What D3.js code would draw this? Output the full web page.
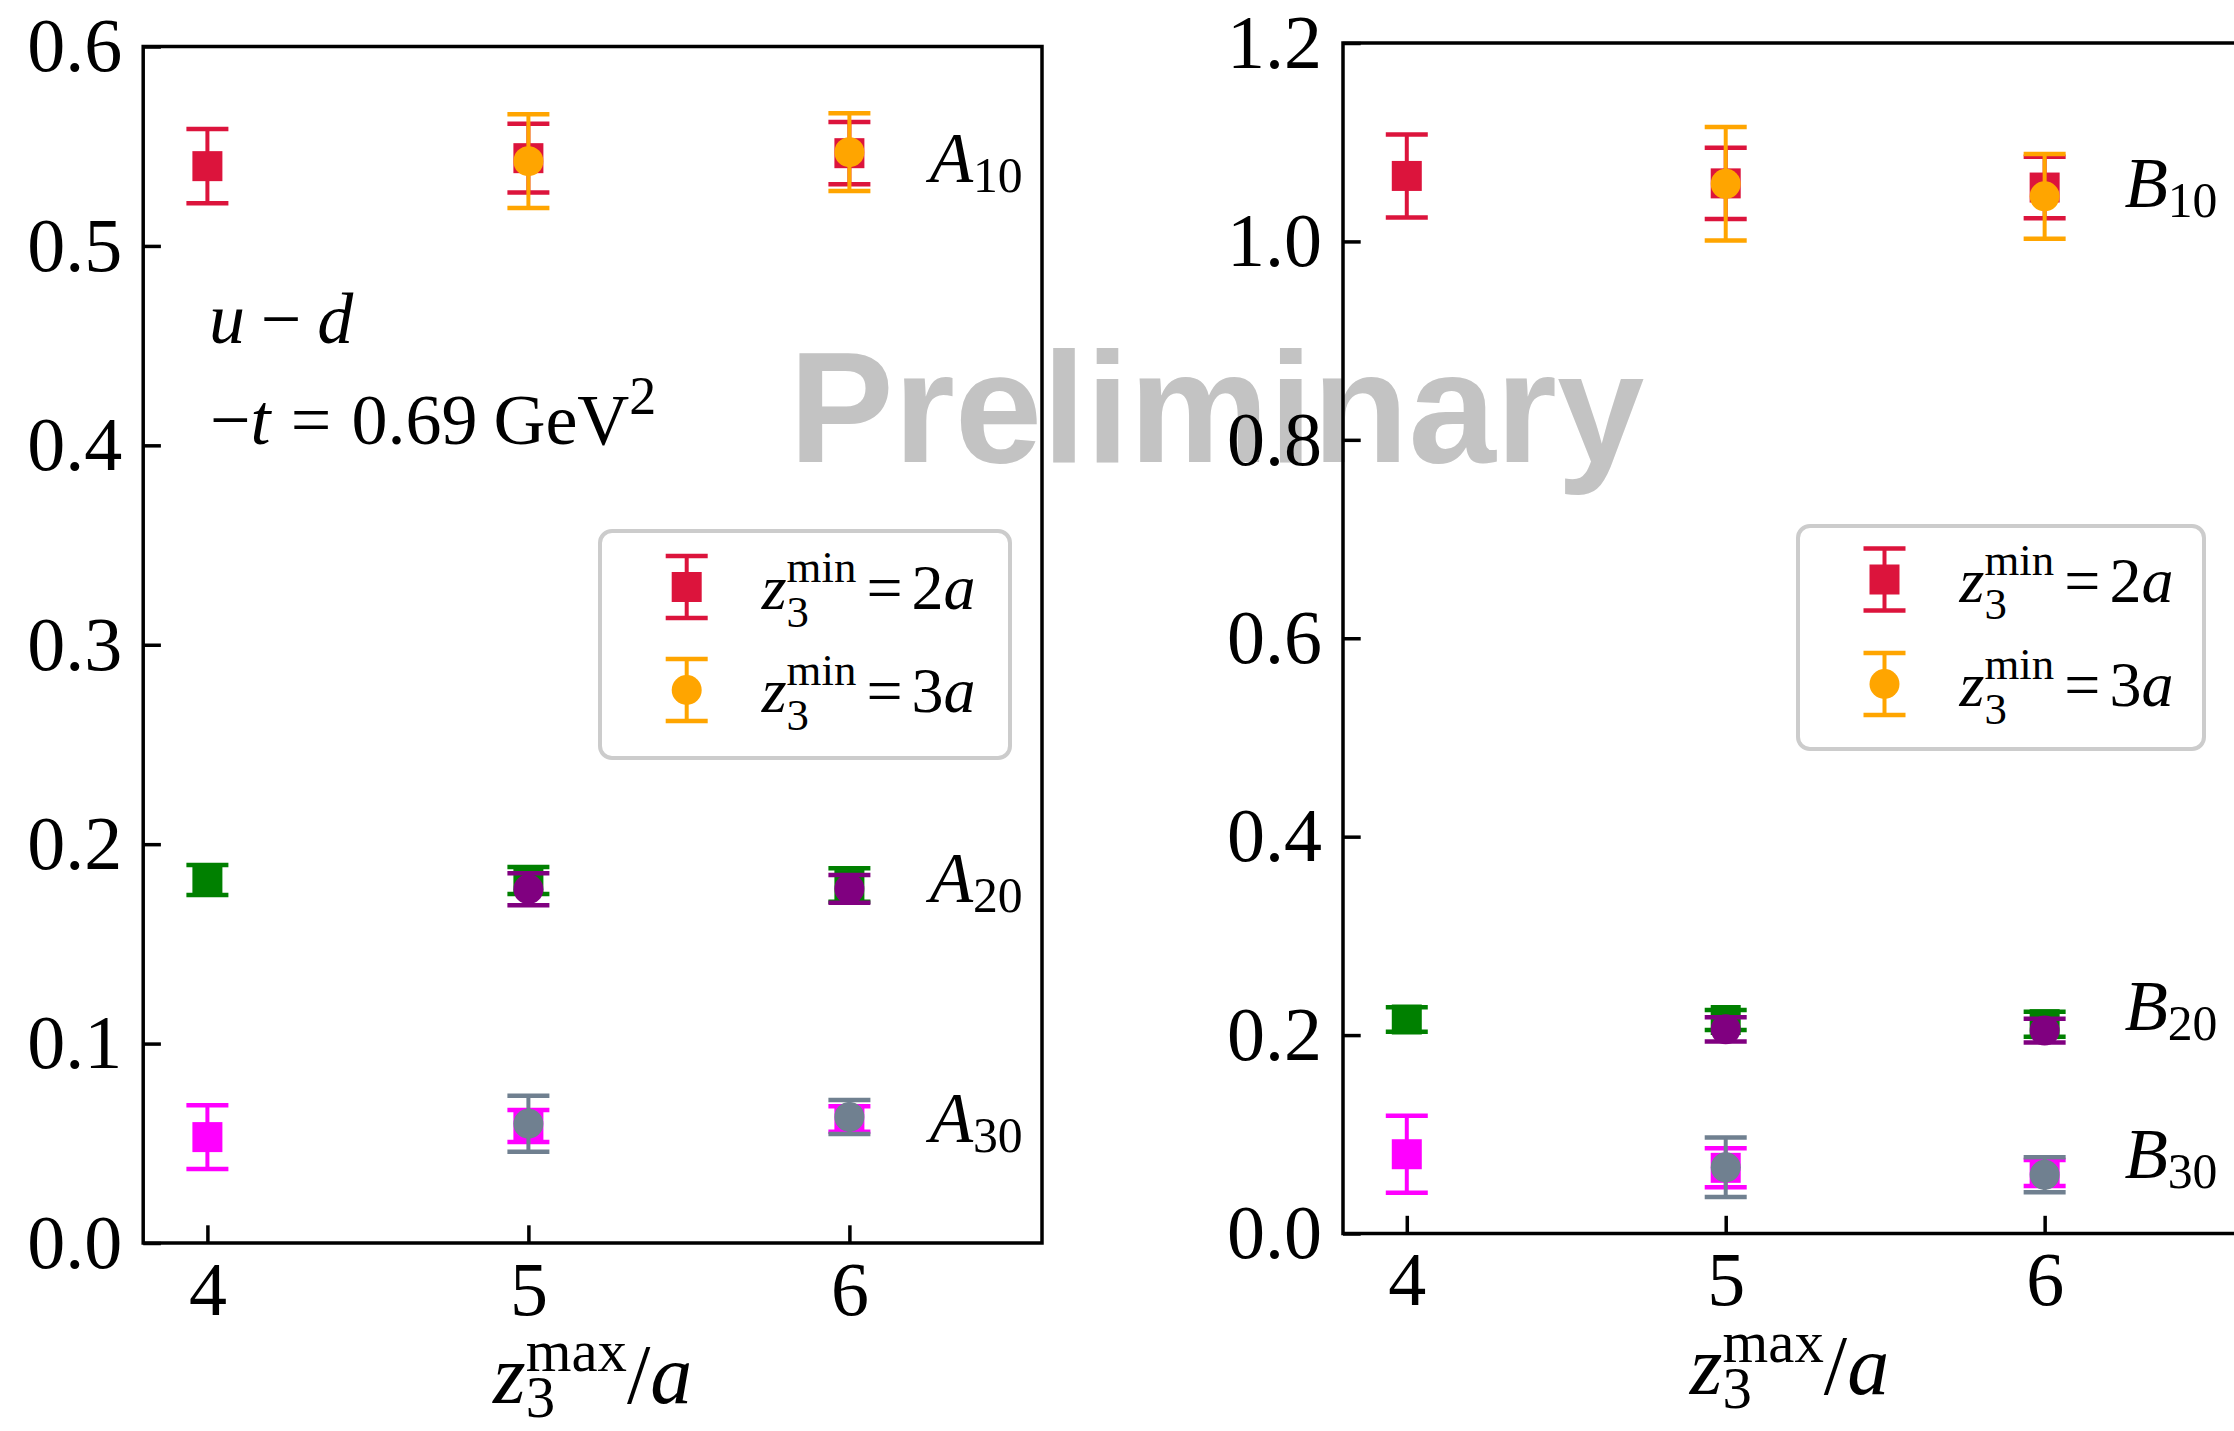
<!DOCTYPE html>
<html>
<head>
<meta charset="utf-8">
<script src="https://cdn.jsdelivr.net/npm/d3@7"></script>
<style>
  body { margin: 0; background: #fff; }
  svg text { font-family: "Liberation Serif", "Times New Roman", serif; fill: #000; }
</style>
</head>
<body>
<svg width="2234" height="1431"></svg>
<script>
// x values: z3max/a ; the z3min=3a fits only exist from 5 on
var zmax = [4, 5, 6];
var zmax3 = [5, 6];

// left panel : A form factors (u-d, -t = 0.69 GeV^2)
var A10_2a = [0.540, 0.544, 0.5465], A10_2a_err = [0.0186, 0.0172, 0.0156];
var A10_3a = [0.5425, 0.5470],       A10_3a_err = [0.0235, 0.0195];
var A20_2a = [0.182, 0.1818, 0.1795], A20_2a_err = [0.0075, 0.0068, 0.0084];
var A20_3a = [0.1774, 0.1776],       A20_3a_err = [0.008, 0.007];
var A30_2a = [0.0531, 0.0587, 0.0622], A30_2a_err = [0.016, 0.008, 0.0064];
var A30_3a = [0.0598, 0.0632],       A30_3a_err = [0.014, 0.0085];

// right panel : B form factors
var B10_2a = [1.066, 1.0585, 1.0543], B10_2a_err = [0.0418, 0.036, 0.031];
var B10_3a = [1.0581, 1.0455],       B10_3a_err = [0.0573, 0.0427];
var B20_2a = [0.2157, 0.2152, 0.211], B20_2a_err = [0.0123, 0.010, 0.0126];
var B20_3a = [0.2058, 0.2045],       B20_3a_err = [0.0123, 0.012];
var B30_2a = [0.0799, 0.0662, 0.061], B30_2a_err = [0.0388, 0.0197, 0.013];
var B30_3a = [0.0667, 0.0592],       B30_3a_err = [0.030, 0.0177];

var yTicksA = [0.0, 0.1, 0.2, 0.3, 0.4, 0.5, 0.6];
var yTicksB = [0.0, 0.2, 0.4, 0.6, 0.8, 1.0, 1.2];
var xTicks = [4, 5, 6];

// labels next to each group, placed at x = 6.25
var labelsA = [["A", "10", 0.532], ["A", "20", 0.171], ["A", "30", 0.0508]];
var labelsB = [["B", "10", 1.035], ["B", "20", 0.205], ["B", "30", 0.0556]];

var col2a = ["crimson", "green", "magenta"];
var col3a = ["orange", "purple", "slategray"];

var svg = d3.select("svg");
svg.append("rect").attr("width", 2234).attr("height", 1431).attr("fill", "#fff");

// watermark first so the axes sit on top of it
svg.append("text")
    .attr("x", 789).attr("y", 462)
    .style("font-family", '"Liberation Sans", Arial, sans-serif')
    .style("font-weight", "bold")
    .style("fill", "#c3c3c3")
    .attr("font-size", 157)
    .text("Preliminary");

// small mathtext-like helper : runs of text, italic pieces, stacked sub/sup
function mtext(g, x, y, size, runs) {
  var cx = x;
  runs.forEach(function(r) {
    if (r.sp) cx += r.sp * size;
    if (r.t !== undefined) {
      var t = g.append("text").attr("x", cx).attr("y", y).attr("font-size", size)
          .style("font-style", r.it ? "italic" : "normal").text(r.t);
      cx += t.node().getComputedTextLength();
    }
    if (r.sub !== undefined || r.sup !== undefined) {
      var w = 0;
      if (r.sub !== undefined) {
        var s = g.append("text").attr("x", cx).attr("y", y + (r.subShift || 0.25) * size)
            .attr("font-size", 0.7 * size).text(r.sub);
        w = Math.max(w, s.node().getComputedTextLength());
      }
      if (r.sup !== undefined) {
        var p = g.append("text").attr("x", cx).attr("y", y - (r.supShift || 0.42) * size)
            .attr("font-size", (r.supScale || 0.7) * size).text(r.sup);
        w = Math.max(w, p.node().getComputedTextLength());
      }
      cx += w;
    }
    if (r.after) cx += r.after * size;
  });
  return cx - x;
}

function errbar(g, cx, cy, ylo, yhi, color, shape) {
  g.append("line").attr("x1", cx).attr("x2", cx).attr("y1", ylo).attr("y2", yhi)
      .attr("stroke", color).attr("stroke-width", 4);
  [ylo, yhi].forEach(function(yy) {
    g.append("line").attr("x1", cx - 21).attr("x2", cx + 21).attr("y1", yy).attr("y2", yy)
        .attr("stroke", color).attr("stroke-width", 4.5);
  });
  if (shape == "s") {
    g.append("rect").attr("x", cx - 15).attr("y", cy - 15).attr("width", 30).attr("height", 30)
        .attr("fill", color);
  } else {
    g.append("circle").attr("cx", cx).attr("cy", cy).attr("r", 15).attr("fill", color);
  }
}

function panel(opt) {
  var x = d3.scaleLinear().domain([3.8, 6.6]).range(opt.xr);
  var y = d3.scaleLinear().domain(opt.yd).range(opt.yr);
  var g = svg.append("g");

  var ya = g.append("g").attr("transform", "translate(" + opt.xr[0] + ",0)")
      .call(d3.axisLeft(y).tickValues(opt.yticks).tickFormat(d3.format(".1f"))
          .tickSize(-17.7).tickPadding(21));
  var xa = g.append("g").attr("transform", "translate(0," + opt.yr[0] + ")")
      .call(d3.axisBottom(x).tickValues(xTicks).tickFormat(d3.format("d"))
          .tickSize(-17.7).tickPadding(18));
  [ya, xa].forEach(function(a) {
    a.select(".domain").remove();
    a.attr("font-family", null).attr("font-size", null);
    a.selectAll("line").attr("stroke", "#000").attr("stroke-width", 3.5);
    a.selectAll("text").attr("font-size", 76);
  });

  g.append("rect")
      .attr("x", opt.xr[0]).attr("y", opt.yr[1])
      .attr("width", opt.xr[1] - opt.xr[0]).attr("height", opt.yr[0] - opt.yr[1])
      .attr("fill", "none").attr("stroke", "#000").attr("stroke-width", 3.5);

  opt.series.forEach(function(s) {
    s.xs.forEach(function(xv, i) {
      var v = s.v[i], e = s.e[i];
      errbar(g, x(xv), y(v), y(v - e), y(v + e), s.color, s.shape);
    });
  });

  opt.labels.forEach(function(l) {
    mtext(g, x(6.25), y(l[2]), 71, [{t: l[0], it: true}, {sub: l[1], subShift: 0.14}]);
  });

  // x axis label centred under the frame
  var lg = g.append("g");
  var w = mtext(lg, 0, 0, 84, [{t: "z", it: true}, {sub: "3", sup: "max", subShift: 0.17, supShift: 0.38},
      {t: "/"}, {t: "a", it: true}]);
  lg.attr("transform", "translate(" + ((opt.xr[0] + opt.xr[1]) / 2 - w / 2) + "," + (opt.yr[0] + 160) + ")");

  // legend
  var L = opt.legend;
  g.append("rect").attr("x", L.x).attr("y", L.y).attr("width", L.w).attr("height", L.h)
      .attr("rx", 12).attr("ry", 12)
      .attr("fill", "#fff").attr("fill-opacity", 0.8)
      .attr("stroke", "#cccccc").attr("stroke-width", 4);
  [["crimson", "s", "2"], ["orange", "o", "3"]].forEach(function(it, i) {
    var cy = L.my[i];
    errbar(g, L.mx, cy, cy - 31, cy + 31, it[0], it[1]);
    mtext(g, L.mx + 75, cy + 22, 64, [{t: "z", it: true}, {sub: "3", sup: "min", subShift: 0.28, supShift: 0.42},
        {t: "=", sp: 0.16, after: 0.14}, {t: it[2]}, {t: "a", it: true}]);
  });
  return {x: x, y: y, g: g};
}

function mk(prefix, data) {
  var out = [];
  ["10", "20", "30"].forEach(function(k, i) {
    out.push({xs: zmax, v: data[prefix + k + "_2a"], e: data[prefix + k + "_2a_err"], color: col2a[i], shape: "s"});
    out.push({xs: zmax3, v: data[prefix + k + "_3a"], e: data[prefix + k + "_3a_err"], color: col3a[i], shape: "o"});
  });
  return out;
}

var dataA = {A10_2a: A10_2a, A10_2a_err: A10_2a_err, A10_3a: A10_3a, A10_3a_err: A10_3a_err,
  A20_2a: A20_2a, A20_2a_err: A20_2a_err, A20_3a: A20_3a, A20_3a_err: A20_3a_err,
  A30_2a: A30_2a, A30_2a_err: A30_2a_err, A30_3a: A30_3a, A30_3a_err: A30_3a_err};
var dataB = {B10_2a: B10_2a, B10_2a_err: B10_2a_err, B10_3a: B10_3a, B10_3a_err: B10_3a_err,
  B20_2a: B20_2a, B20_2a_err: B20_2a_err, B20_3a: B20_3a, B20_3a_err: B20_3a_err,
  B30_2a: B30_2a, B30_2a_err: B30_2a_err, B30_3a: B30_3a, B30_3a_err: B30_3a_err};

var left = panel({
  xr: [143.2, 1042], yr: [1243, 46.5], yd: [0, 0.6], yticks: yTicksA,
  series: mk("A", dataA), labels: labelsA,
  legend: {x: 600, y: 531, w: 410, h: 227, mx: 686.7, my: [587, 690]}
});
var right = panel({
  xr: [1343, 2236], yr: [1233.5, 43], yd: [0, 1.2], yticks: yTicksB,
  series: mk("B", dataB), labels: labelsB,
  legend: {x: 1798, y: 526, w: 406, h: 223, mx: 1884.5, my: [579.5, 684]}
});

// u-d annotation
var ann = left.g.append("g");
mtext(ann, 209, 343, 72, [{t: "u", it: true}, {t: "\u2212", sp: 0.22, after: 0.22}, {t: "d", it: true}]);
mtext(ann, 210, 444, 72, [{t: "\u2212"}, {t: "t", it: true}, {t: "=", sp: 0.28, after: 0.28},
    {t: "0.69"}, {t: "GeV", sp: 0.22}, {sup: "2", supShift: 0.42, supScale: 0.75}]);
</script>
</body>
</html>
